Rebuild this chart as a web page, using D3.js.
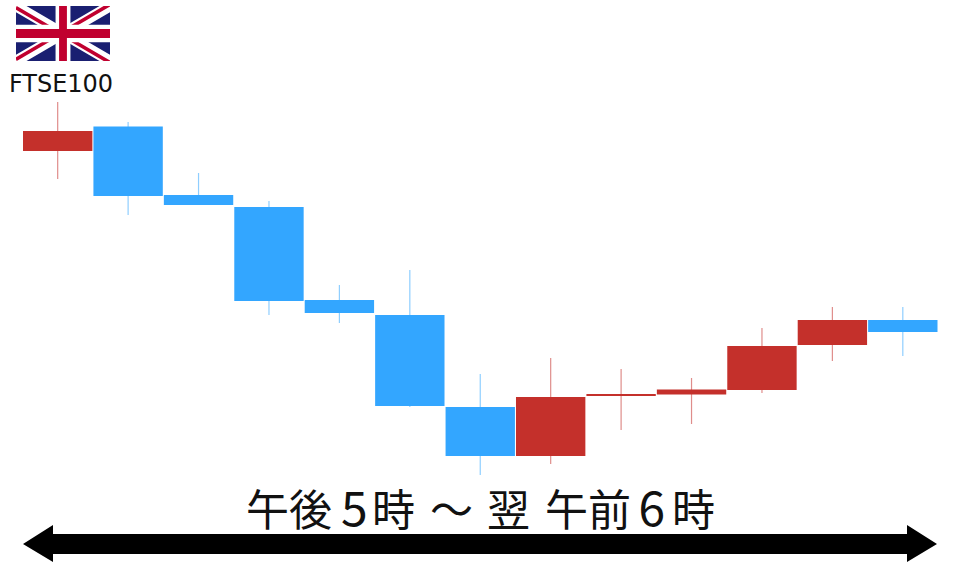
<!DOCTYPE html>
<html><head><meta charset="utf-8">
<script src="https://cdnjs.cloudflare.com/ajax/libs/d3/7.8.5/d3.min.js"></script>
<style>html,body{margin:0;padding:0;background:#fff}svg{display:block}</style>
</head><body><div id="c"></div>
<script>
// Values on a 0–567 scale (higher = higher price)
const categories = ["1","2","3","4","5","6","7","8","9","10","11","12","13"];
const opens  = [416,440.5,372,360,267,252,160,111,171,172.5,177,222,247];
const closes = [436,371,362,266,254,161,111,170,173,177.5,221,247,235];
const highs  = [465,445,394,366,282,297,193,209,198,189,239,260,260];
const lows   = [388,352,362,252,244,160,92,103,137,143,174,206,211];
const indexLabel = "FTSE100";
const timeLabelParts = ["午後","5","時","〜","翌","午前","6","時"];

const W=960,H=567;
const upColor="#c4302b", downColor="#33a6ff";
const svg=d3.select("#c").append("svg").attr("width",W).attr("height",H).attr("viewBox",`0 0 ${W} ${H}`);
const x=d3.scaleBand().domain(categories).range([23,937.5]).paddingInner(0.015).paddingOuter(0);
const y=d3.scaleLinear().domain([0,567]).range([567,0]);
const candles=categories.map((c,i)=>({c,o:opens[i],cl:closes[i],h:highs[i],l:lows[i],up:closes[i]>=opens[i]}));

const g=svg.append("g");
g.selectAll("line.wick").data(candles).join("line").attr("class","wick")
  .attr("x1",d=>x(d.c)+x.bandwidth()/2).attr("x2",d=>x(d.c)+x.bandwidth()/2)
  .attr("y1",d=>y(d.h)).attr("y2",d=>y(d.l))
  .attr("stroke",d=>d.up?upColor:downColor).attr("stroke-opacity",0.55).attr("stroke-width",1.2);
g.selectAll("rect.body").data(candles).join("rect").attr("class","body")
  .attr("x",d=>x(d.c)).attr("width",x.bandwidth())
  .attr("y",d=>y(Math.max(d.o,d.cl))).attr("height",d=>Math.abs(y(d.o)-y(d.cl)))
  .attr("fill",d=>d.up?upColor:downColor);

// Union Jack
const flag=svg.append("svg").attr("x",16).attr("y",6).attr("width",94).attr("height",55)
  .attr("viewBox","0 0 60 30").attr("preserveAspectRatio","none");
flag.append("rect").attr("width",60).attr("height",30).attr("fill","#1a1f71");
flag.append("path").attr("d","M0,0L60,30M60,0L0,30").attr("stroke","#fff").attr("stroke-width",6);
flag.append("path").attr("d","M0,0L30,15M60,30L30,15").attr("stroke","#c0002f").attr("stroke-width",2).attr("transform","translate(0,0.9)");
flag.append("path").attr("d","M60,0L30,15M0,30L30,15").attr("stroke","#c0002f").attr("stroke-width",2).attr("transform","translate(0,-0.9)");
flag.append("path").attr("d","M30,0V30M0,15H60").attr("stroke","#fff").attr("stroke-width",9.5);
flag.append("path").attr("d","M30,0V30M0,15H60").attr("stroke","#c0002f").attr("stroke-width",5);

svg.append("text").attr("x",61).attr("y",92).attr("text-anchor","middle")
  .attr("font-family","'DejaVu Sans',sans-serif").attr("font-size",24).attr("fill","#111").text(indexLabel);

// Time label, placed piece by piece
const label=svg.append("g").attr("font-family","'Noto Sans CJK JP',sans-serif").attr("font-size",43).attr("fill","#111");
const xs=[246,341,372,430,487,545,638.5,672];
const sizes=[43,48,43,43,43,43,48,43];
timeLabelParts.forEach((t,i)=>{label.append("text").attr("x",xs[i]).attr("y",526).attr("font-size",sizes[i]).text(t);});

// Double arrow
svg.append("path").attr("fill","#000").attr("d",(()=>{
  const p=d3.path();
  p.moveTo(23,544);p.lineTo(53,525);p.lineTo(53,534);p.lineTo(907,534);p.lineTo(907,525);
  p.lineTo(937,544);p.lineTo(907,562);p.lineTo(907,554);p.lineTo(53,554);p.lineTo(53,562);p.closePath();
  return p.toString();})());
</script></body></html>
